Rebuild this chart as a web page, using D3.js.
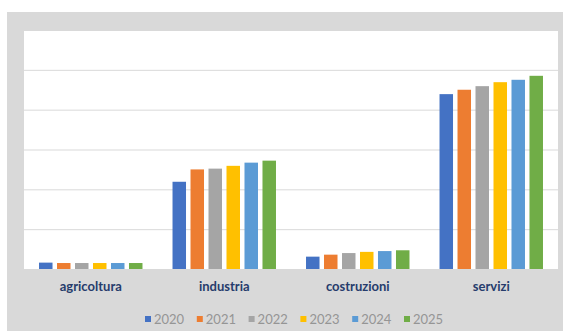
<!DOCTYPE html>
<html>
<head>
<meta charset="utf-8">
<script src="https://cdn.jsdelivr.net/npm/d3@7"></script>
<style>
  body { margin: 0; background: #fff; }
  .grid line { stroke: #d9d9d9; stroke-width: 1; }
  .grid path { stroke: none; }
  .cat { font-family: Lato, "Open Sans", sans-serif; font-weight: bold; font-size: 13px; fill: #263c6c; }
  .leg { font-family: Lato, "Open Sans", sans-serif; font-size: 13px; fill: #959595; }
</style>
</head>
<body>
<div class="chart"></div>
<script>
// categories + years
var categories = ['agricoltura', 'industria', 'costruzioni', 'servizi'];
var years = ['2020', '2021', '2022', '2023', '2024', '2025'];
var colors = ['#4472c4', '#ed7d31', '#a5a5a5', '#ffc000', '#5b9bd5', '#70ad47'];

// values per year (one entry per category) in gridline units
var v2020 = [0.16, 2.19, 0.31, 4.39];
var v2021 = [0.15, 2.50, 0.36, 4.50];
var v2022 = [0.15, 2.52, 0.40, 4.59];
var v2023 = [0.15, 2.59, 0.43, 4.69];
var v2024 = [0.15, 2.67, 0.45, 4.75];
var v2025 = [0.15, 2.72, 0.47, 4.85];
var series = [v2020, v2021, v2022, v2023, v2024, v2025];

var yTicks = [0, 1, 2, 3, 4, 5, 6];

var width = 563, height = 331;
var plot = { left: 24, right: 558, top: 30, bottom: 269 };

var svg = d3.select(".chart")
    .append("svg")
    .attr("width", width)
    .attr("height", height);

// chart background (grey) and plot area (white)
svg.append("rect")
    .attr("x", 7).attr("y", 12)
    .attr("width", width - 7).attr("height", height - 12)
    .style("fill", "#d9d9d9");

svg.append("rect")
    .attr("x", plot.left).attr("y", plot.top)
    .attr("width", plot.right - plot.left).attr("height", plot.bottom - plot.top)
    .style("fill", "#ffffff");

var x0 = d3.scaleBand()
    .domain(categories)
    .range([plot.left, plot.right])
    .paddingInner(0.225)
    .paddingOuter(0.1125);

var x1 = d3.scaleBand()
    .domain(years)
    .range([0, x0.bandwidth()])
    .paddingInner(0.25);

var y = d3.scaleLinear()
    .domain([0, 6])
    .range([plot.bottom, plot.top]);

// gridlines
svg.append("g")
    .attr("class", "grid")
    .attr("transform", "translate(" + plot.left + ",0)")
    .call(d3.axisLeft(y)
        .tickValues(yTicks)
        .tickSize(-(plot.right - plot.left))
        .tickFormat("")
    );

// bars
var rows = [];
categories.forEach(function(c, ci) {
    years.forEach(function(yr, yi) {
        rows.push({ cat: c, year: yr, value: series[yi][ci], color: colors[yi] });
    });
});

svg.selectAll("rect.bar")
    .data(rows)
    .enter()
    .append("rect")
    .attr("class", "bar")
    .attr("x", function(d) { return x0(d.cat) + x1(d.year); })
    .attr("y", function(d) { return y(d.value); })
    .attr("width", x1.bandwidth())
    .attr("height", function(d) { return y(0) - y(d.value); })
    .style("fill", function(d) { return d.color; });

// category labels
svg.selectAll("text.cat")
    .data(categories)
    .enter()
    .append("text")
    .attr("class", "cat")
    .attr("x", function(d) { return x0(d) + x0.bandwidth() / 2; })
    .attr("y", 291)
    .attr("text-anchor", "middle")
    .text(function(d) { return d; });

// legend
var legX = d3.scalePoint()
    .domain(years)
    .range([148, 407]);

var leg = svg.selectAll("g.leg")
    .data(years)
    .enter()
    .append("g")
    .attr("transform", function(d) { return "translate(" + legX(d) + ",319)"; });

leg.append("rect")
    .attr("x", -3).attr("y", -3)
    .attr("width", 6).attr("height", 6)
    .style("fill", function(d, i) { return colors[i]; });

leg.append("text")
    .attr("class", "leg")
    .attr("x", 6)
    .attr("y", 4.5)
    .text(function(d) { return d; });
</script>
</body>
</html>
